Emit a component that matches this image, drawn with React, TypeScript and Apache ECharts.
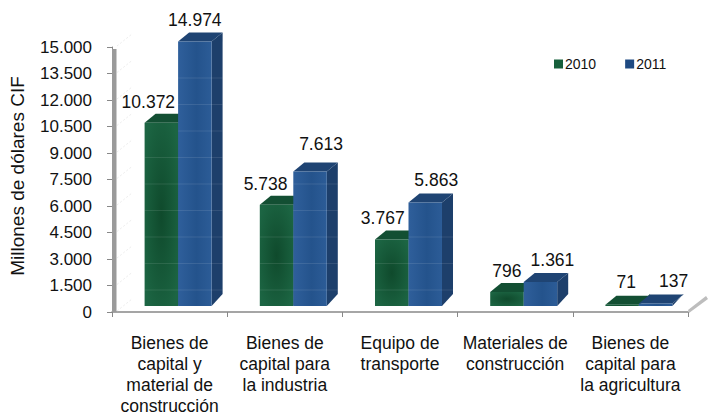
import React, { useEffect, useRef } from "react";
import * as echarts from "echarts";

const categories = [
  "Bienes de\ncapital y\nmaterial de\nconstrucción",
  "Bienes de\ncapital para\nla industria",
  "Equipo de\ntransporte",
  "Materiales de\nconstrucción",
  "Bienes de\ncapital para\nla agricultura",
];
const values2010 = [10372, 5738, 3767, 796, 71];
const values2011 = [14974, 7613, 5863, 1361, 137];
const yTicks = [0, 1500, 3000, 4500, 6000, 7500, 9000, 10500, 12000, 13500, 15000];

const labelShift2010 = [[-13, -21], [-11, -21], [-9, -21], [0, -21], [4, -23]];
const labelShift2011 = [[0, -21], [11, -28], [11, -22], [12, -22], [18, -23]];

const FONT = '"Liberation Sans", Arial, sans-serif';
const fmt = (v: number) => String(v).replace(/\B(?=(\d{3})+$)/g, ".");

const radial = (mid: string, edge: string) => ({
  type: "radial", x: 0.5, y: 0.5, r: 0.62, global: false,
  colorStops: [{ offset: 0, color: mid }, { offset: 1, color: edge }],
});
const sideways = (a: string, b: string, c: string) => ({
  type: "linear", x: 0, y: 0, x2: 1, y2: 0, global: false,
  colorStops: [{ offset: 0, color: a }, { offset: 0.55, color: b }, { offset: 1, color: c }],
});

const BAR_W = 33.5, DEPTH_X = 11, DEPTH_Y = 9, FRONT_LIFT = 6;

function barSeries(name: string, values: number[], shifts: number[][], xOff: number, st: any) {
  return {
    name,
    type: "custom",
    data: values.map((v, i) => [i, v]),
    encode: { x: 0, y: 1 },
    z: st.z,
    itemStyle: { color: st.legend },
    renderItem: (_p: any, api: any) => {
      const i = api.value(0), v = api.value(1);
      const [cx, yTop] = api.coord([i, v]);
      const [, yZero] = api.coord([i, 0]);
      const x = cx + xOff;
      const top = yTop - FRONT_LIFT, bot = yZero - FRONT_LIFT;
      const r = x + BAR_W;
      const kids: any[] = [
        { type: "polygon", shape: { points: [[r, top], [r + DEPTH_X, top - DEPTH_Y], [r + DEPTH_X, bot - DEPTH_Y - 3], [r, bot]] }, style: { fill: st.side } },
        { type: "polygon", shape: { points: [[x, top], [x + DEPTH_X, top - DEPTH_Y], [r + DEPTH_X, top - DEPTH_Y], [r, top]] }, style: { fill: st.top } },
        { type: "rect", shape: { x, y: top, width: BAR_W, height: Math.max(bot - top, 1) }, style: { fill: st.front } },
      ];
      yTicks.forEach((t) => {
        if (t > 0 && t < v) {
          const [, ty] = api.coord([i, t]);
          const yy = ty + 4.5;
          if (yy > top + 2 && yy < bot) {
            kids.push({ type: "line", shape: { x1: x, y1: yy, x2: r + DEPTH_X, y2: yy }, style: { stroke: "rgba(255,255,255,0.10)", lineWidth: 1 } });
          }
        }
      });
      const [dx, dy] = shifts[i];
      kids.push({
        type: "text",
        z2: 50,
        style: {
          text: fmt(v), x: x + BAR_W / 2 + dx, y: top + dy,
          align: "center", verticalAlign: "middle",
          font: `17.5px ${FONT}`, fill: "#111",
        },
      });
      return { type: "group", children: kids };
    },
  };
}

const wallSeries = {
  type: "custom",
  name: "wall",
  data: yTicks.map((t) => [0, t]),
  encode: { x: 0, y: 1 },
  silent: true,
  z: 1,
  renderItem: (_p: any, api: any) => {
    const [cx, ty] = api.coord([0, api.value(1)]);
    const band = api.size([1, 0])[0];
    const left = cx - band / 2;
    const kids: any[] = [
      { type: "line", shape: { x1: left + 5, y1: ty - 1, x2: left + 20, y2: ty - 13 }, style: { stroke: "#ededed", lineWidth: 1, lineDash: [2, 2] } },
    ];
    if (api.value(1) === 0) {
      const [, y15] = api.coord([0, 15000]);
      kids.push({ type: "rect", shape: { x: left, y: y15 + 2, width: 4.5, height: ty - y15 - 2 }, style: { fill: "#9a9a9a" } });
      const right = left + band * categories.length;
      kids.push({ type: "polygon", shape: { points: [[right, ty - 2], [right + 18, ty - 16], [right + 20, ty - 13], [right + 1, ty + 1]] }, style: { fill: "#bdbdbd" } });
    }
    return { type: "group", children: kids };
  },
};

export default function App() {
  const ref = useRef<HTMLDivElement>(null);
  useEffect(() => {
    document.body.style.margin = "0";
    document.body.style.background = "#fff";
    const chart = echarts.init(ref.current!, undefined, { renderer: "svg" });
    chart.setOption({
      animation: false,
      backgroundColor: "#ffffff",
      textStyle: { fontFamily: FONT },
      grid: { left: 112, right: 21, top: 47, bottom: 102, containLabel: false, outerBoundsMode: "none" },
      legend: {
        data: ["2010", "2011"],
        left: 549, top: 52,
        itemWidth: 9, itemHeight: 9, itemGap: 29,
        textStyle: { fontSize: 14, color: "#111", fontFamily: FONT, padding: [0, 0, 0, -3] },
        icon: "rect",
      },
      xAxis: {
        type: "category",
        data: categories,
        axisLine: { lineStyle: { color: "#888", width: 1.5 } },
        axisTick: { show: true, alignWithLabel: false, length: 5, lineStyle: { color: "#888" } },
        axisLabel: { interval: 0, margin: 20, fontSize: 17.5, lineHeight: 21, color: "#111", fontFamily: FONT },
      },
      yAxis: {
        type: "value",
        min: 0, max: 15000, interval: 1500,
        name: "Millones de dólares CIF",
        nameLocation: "middle",
        nameGap: 85,
        nameRotate: 90,
        nameTextStyle: { fontSize: 19, color: "#111", fontFamily: FONT, padding: [0, 0, 0, 7] },
        axisLine: { show: true, lineStyle: { color: "#888", width: 1 } },
        axisTick: { show: true, length: 5, lineStyle: { color: "#888" } },
        axisLabel: { margin: 20, fontSize: 17, color: "#111", fontFamily: FONT, formatter: (v: number) => fmt(v) },
        splitLine: { show: false },
      },
      series: [
        wallSeries,
        barSeries("2010", values2010, labelShift2010, -25, {
          z: 2, legend: "#17603c", front: radial("#0f4a2c", "#1c6543"), top: "#134f33", side: "#134f33",
        }),
        barSeries("2011", values2011, labelShift2011, 8.5, {
          z: 3, legend: "#1f4a82", front: sideways("#2f5f9b", "#24538c", "#2c5c97"), top: "#1f4473", side: "#1d3f6b",
        }),
      ],
    });
    return () => chart.dispose();
  }, []);
  return <div ref={ref} style={{ width: 709, height: 414 }} />;
}
